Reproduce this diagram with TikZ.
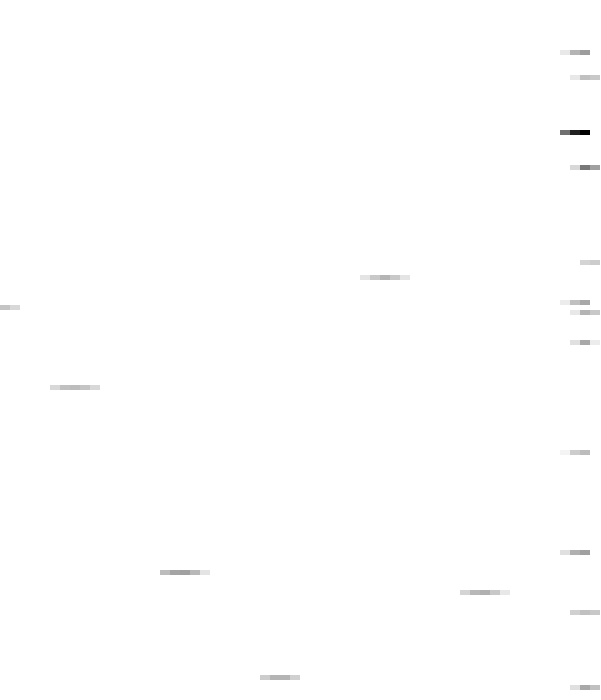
\documentclass[tikz,border=0pt]{standalone}
\begin{document}
\begin{tikzpicture}[x=1pt,y=-1pt,
  cell/.style={line width=0pt}]
\useasboundingbox[fill=white] (0,0) rectangle (600,700);
\foreach \px/\py/\g in {
  560/50/232, 570/50/180, 580/50/156,
  570/75/232, 580/75/192, 590/75/200,
  560/130/112, 570/130/32, 580/130/0,
  570/165/216, 580/165/120, 590/165/160,
  580/260/212, 590/260/204,
  360/275/228, 370/275/200, 380/275/180, 390/275/200, 400/275/228,
  560/300/236, 570/300/192, 580/300/168,
  0/305/196, 10/305/216,
  570/310/232, 580/310/180, 590/310/200,
  570/340/224, 580/340/168, 590/340/236,
  50/385/216, 60/385/192, 70/385/188, 80/385/196, 90/385/216,
  560/450/244, 570/450/204, 580/450/188,
  560/550/224, 570/550/176, 580/550/160,
  160/570/188, 170/570/164, 180/570/160, 190/570/184, 200/570/228,
  460/590/212, 470/590/184, 480/590/176, 490/590/200, 500/590/232,
  570/610/208, 580/610/192, 590/610/200,
  260/675/204, 270/675/180, 280/675/180, 290/675/208,
  570/685/224, 580/685/168, 590/685/192}
{
  \definecolor{cellc}{RGB}{\g,\g,\g}
  \fill[cell,cellc] (\px,\py) rectangle ++(10,5);
}
\end{tikzpicture}
\end{document}
